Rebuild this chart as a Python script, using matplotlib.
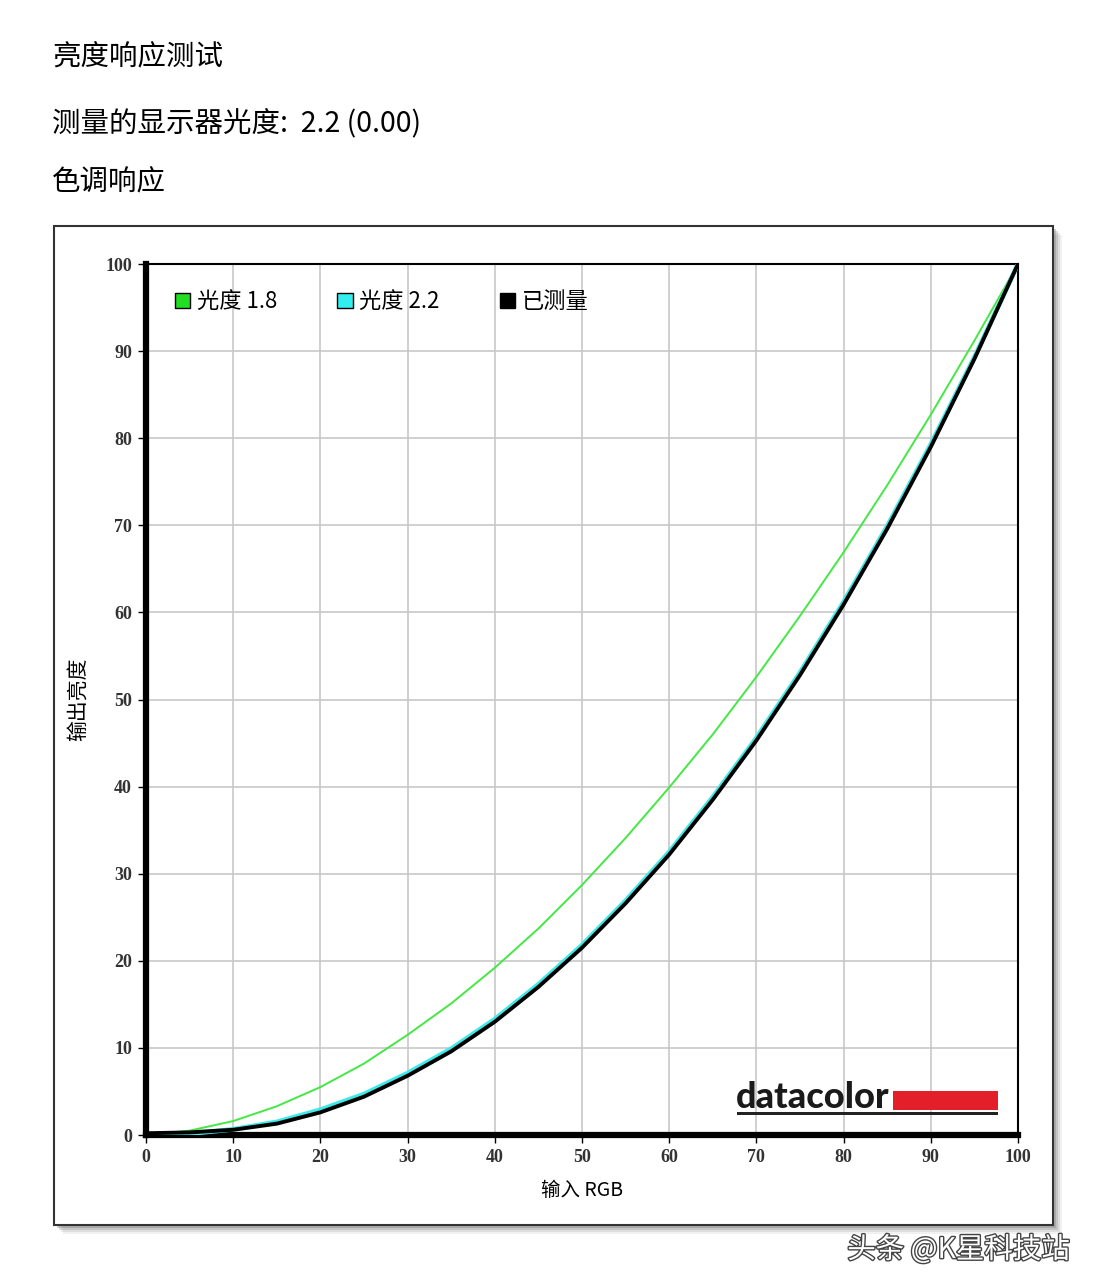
import matplotlib
matplotlib.use("Agg")
import matplotlib.pyplot as plt
import matplotlib.patheffects as pe
from matplotlib.patches import Rectangle, Patch

CJK = ['Noto Sans CJK SC', 'DejaVu Sans']
TICKF = ['Liberation Serif', 'Noto Sans CJK SC']

# values, input RGB every 5
rgb = [0, 5, 10, 15, 20, 25, 30, 35, 40, 45, 50, 55, 60, 65, 70, 75, 80, 85, 90, 95, 100]
gamma18 = [0, 0.5, 1.6, 3.3, 5.5, 8.2, 11.5, 15.1, 19.2, 23.7, 28.7, 34.1, 39.9,
           46.0, 52.6, 59.6, 66.9, 74.6, 82.7, 91.2, 100]
gamma22 = [0, 0.15, 0.65, 1.5, 2.9, 4.7, 7.1, 9.9, 13.3, 17.3, 21.8, 26.9, 32.5,
           38.8, 45.6, 53.1, 61.2, 69.9, 79.3, 89.3, 100]
measured = [0.2, 0.3, 0.6, 1.3, 2.6, 4.4, 6.8, 9.6, 13.0, 17.0, 21.5, 26.6, 32.2,
            38.5, 45.3, 52.8, 60.9, 69.6, 79.0, 89.1, 100]
ticks = [0, 10, 20, 30, 40, 50, 60, 70, 80, 90, 100]

W, H = 1096, 1288
fig = plt.figure(figsize=(W / 100, H / 100), dpi=100)

# header texts
fig.text(52 / W, 1 - 57 / H, '亮度响应测试', family=CJK, fontsize=20.5, va='center')
fig.text(52 / W, 1 - 124 / H, '测量的显示器光度:  2.2 (0.00)', family=CJK, fontsize=20.5, va='center')
fig.text(52 / W, 1 - 182 / H, '色调响应', family=CJK, fontsize=20.5, va='center')

# framed panel with shadow
for off, a in [(9, 0.10), (7, 0.15), (5, 0.25), (3, 0.35)]:
    fig.patches.append(Rectangle(((54 + off) / W, 1 - (1225 + off) / H), 999 / W, 999 / H,
                                 transform=fig.transFigure, facecolor='#777777',
                                 edgecolor='none', alpha=a, zorder=0))
fig.patches.append(Rectangle((54 / W, 1 - 1225 / H), 999 / W, 999 / H,
                             transform=fig.transFigure, facecolor='white',
                             edgecolor='#333333', linewidth=1.5, zorder=1))

ax = fig.add_axes([146 / W, 1 - 1135 / H, 872 / W, 871 / H])
ax.set_zorder(2)
ax.set_xlim(0, 100)
ax.set_ylim(0, 100)

ax.plot(rgb, gamma18, color='#44e844', linewidth=1.4, zorder=3)
ax.plot(rgb, gamma22, color='#40e8e8', linewidth=3.4, zorder=4)
ax.plot(rgb, measured, color='black', linewidth=2.8, zorder=5)

ax.set_xticks(ticks)
ax.set_yticks(ticks)
ax.grid(True, color='#c8c8c8', linewidth=1.2)
ax.set_axisbelow(True)
for s in ['left', 'bottom']:
    ax.spines[s].set_linewidth(4.5)
for s in ['top', 'right']:
    ax.spines[s].set_linewidth(1.5)
ax.tick_params(direction='out', length=6, width=1, labelsize=13, pad=4)
for lab in ax.get_xticklabels() + ax.get_yticklabels():
    lab.set_family(TICKF)
    lab.set_color('#333333')
    lab.set_fontweight('bold')

ax.set_xlabel('输入 RGB', family=['Noto Sans CJK SC'], fontsize=14, labelpad=10)
ax.set_ylabel('输出亮度', family=['Noto Sans CJK SC'], fontsize=15, labelpad=12)

handles = [Patch(facecolor='#22dd22', edgecolor='black', linewidth=1),
           Patch(facecolor='#33eeee', edgecolor='black', linewidth=1),
           Patch(facecolor='black', edgecolor='black', linewidth=1)]
leg = ax.legend(handles, ['光度 1.8', '光度 2.2', '已测量'], ncol=3, loc='upper left',
                bbox_to_anchor=(0.01, 0.993), frameon=False, handlelength=0.7,
                handleheight=0.7, handletextpad=0.3, columnspacing=2.7,
                prop={'family': CJK, 'size': 16})

# datacolor logo
fig.text(736 / W, 1 - 1098 / H, 'datacolor', family=['Lato', 'DejaVu Sans'],
         fontweight='black', fontsize=26, va='center', color='#1a1a1a', zorder=5)
fig.patches.append(Rectangle((893 / W, 1 - 1110 / H), 105 / W, 19 / H,
                             transform=fig.transFigure, facecolor='#e3202a',
                             edgecolor='none', zorder=5))
fig.patches.append(Rectangle((737 / W, 1 - 1115 / H), 261 / W, 3 / H,
                             transform=fig.transFigure, facecolor='#222222',
                             edgecolor='none', zorder=5))

# watermark
fig.text(1070 / W, 1 - 1250 / H, '头条 @K星科技站', family=CJK, fontsize=20.5,
         ha='right', va='center', color='white',
         path_effects=[pe.withStroke(linewidth=2, foreground='#444444')])

fig.savefig('out.png', dpi=100)
